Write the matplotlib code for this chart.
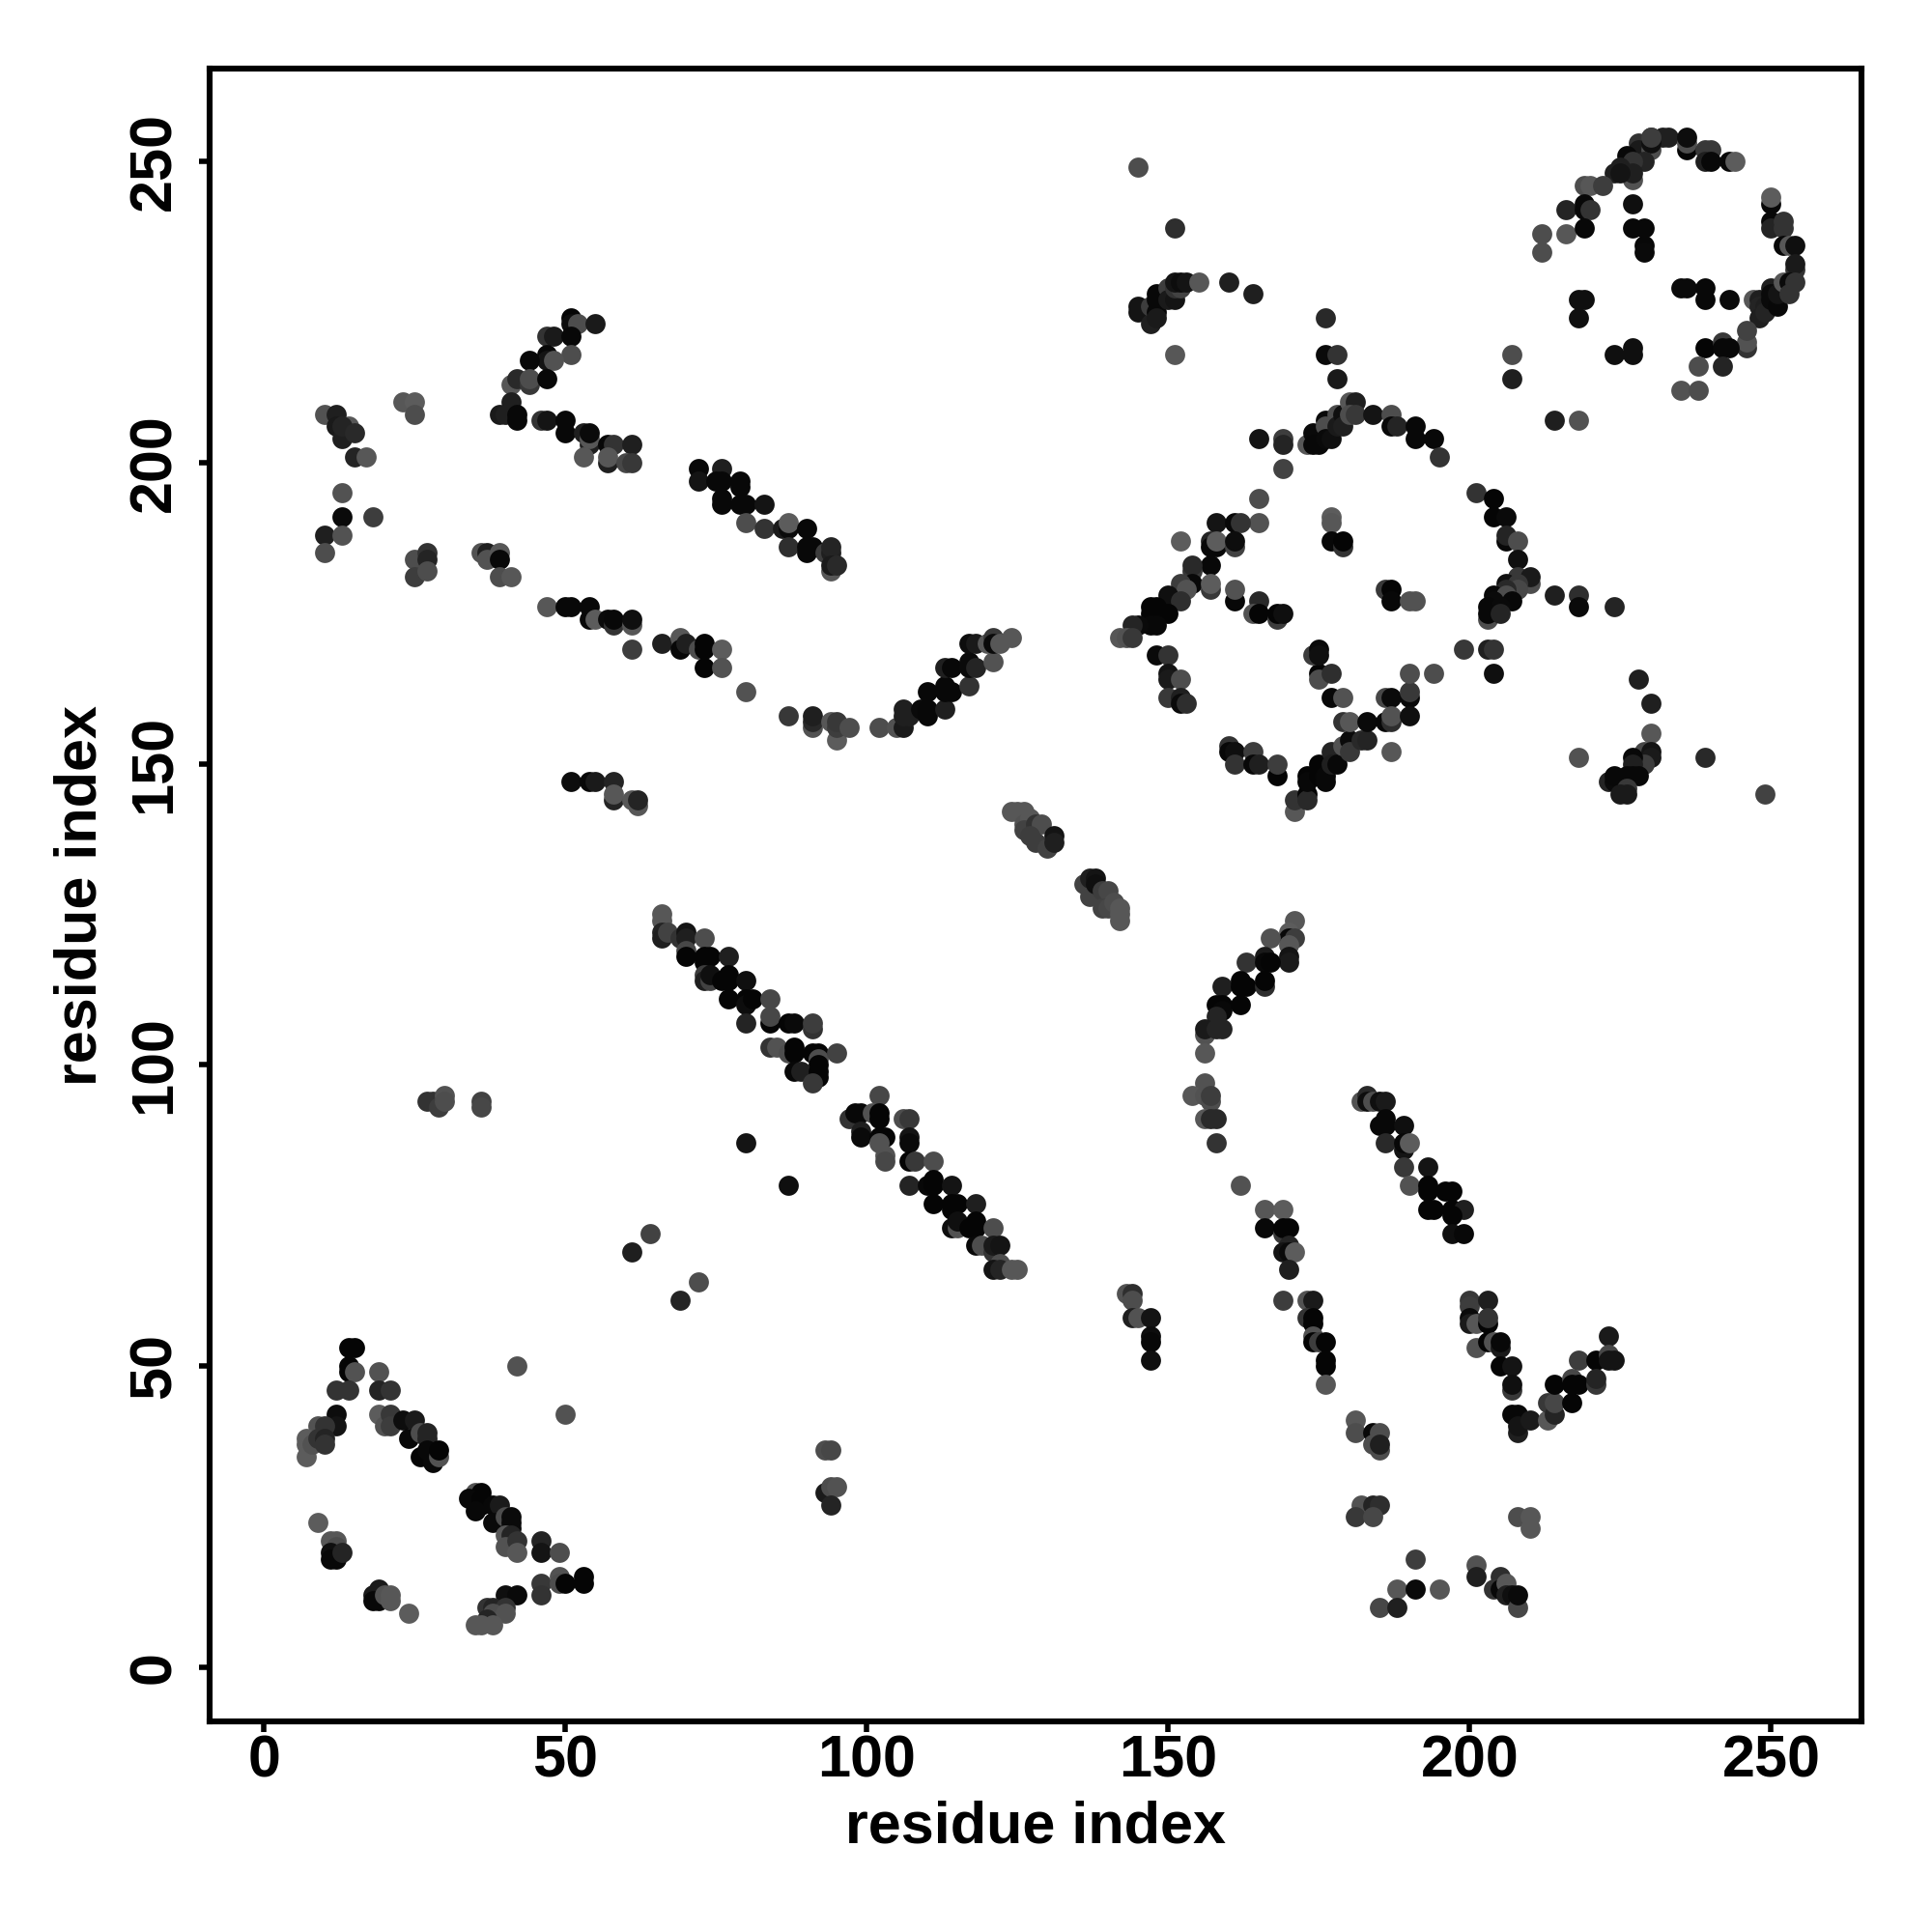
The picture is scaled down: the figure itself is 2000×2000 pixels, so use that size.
import matplotlib
matplotlib.use("Agg")
import matplotlib.pyplot as plt

# contacts as (residue, residue, grey percent), in drawing order
lower_left = [
    (14,53,2),(15,53,2),(14,50,2),(14,49,2),(15,49,32),(12,46,20),(14,46,20),(19,49,32),(19,46,14),(21,46,20),
    (12,42,5),(12,40,8),(9,40,32),(10,40,20),(7,38,36),(7,37,36),(7,35,36),(8,37,32),(9,38,20),(10,38,14),(10,37,20),
    (19,42,36),(20,40,32),(21,42,22),(21,40,24),(23,41,5),(25,41,10),(24,38,3),(26,39,30),(27,39,14),(27,38,14),
    (26,35,2),(27,36,3),(28,34,3),(29,35,32),(29,36,2),
    (9,24,36),(11,21,34),(12,21,34),(12,20,30),(11,19,6),(11,18,3),(12,18,3),(13,19,14),
    (19,13,10),(18,12,10),(18,11,3),(19,11,3),(20,12,32),(21,12,34),(21,11,34),(24,9,36),
    (35,29,32),(36,29,2),(34,28,3),(36,28,2),(36,27,2),(35,26,3),(38,27,3),(39,27,10),(38,24,4),
    (40,25,30),(41,25,4),(41,24,4),(41,23,4),(40,22,34),(41,22,14),(40,20,32),(42,21,20),(42,19,34),
    (46,21,14),(46,19,8),(49,19,30),(46,14,22),(46,12,20),(49,15,32),(49,14,30),(50,14,2),(53,15,2),(53,14,2),
    (40,12,6),(42,12,4),(37,10,20),(38,10,14),(40,10,20),(38,9,30),(40,9,32),(37,8,14),(35,7,34),(36,7,34),(38,7,34),
    (42,50,32),(50,42,32),
]
main_diagonal = [
    (66,125,34),(66,124,34),(66,122,14),(66,121,12),(67,122,26),(69,121,20),(70,122,8),(70,121,12),(73,121,30),
    (70,119,28),(70,118,2),(73,118,2),(74,118,2),(73,117,2),(77,118,12),(73,115,24),(73,114,12),(74,114,26),(74,115,6),
    (76,114,2),(77,115,2),(77,114,2),(80,114,6),(77,111,2),(80,111,2),(80,110,5),(81,111,2),(84,111,28),
    (80,107,14),(84,107,2),(84,108,28),(87,107,2),(88,107,4),(91,106,20),(91,107,24),
    (84,103,20),(85,103,32),(87,102,30),(88,103,2),(88,102,2),(91,102,2),(92,102,2),(92,101,30),(92,100,2),(95,102,26),
    (88,99,3),(89,99,12),(92,99,2),(92,98,2),(91,97,22),
    (102,95,28),(97,91,20),(98,92,3),(99,92,3),(101,92,32),(102,92,2),(102,91,2),(99,89,12),(99,88,4),
    (102,88,2),(103,88,2),(102,87,32),(103,85,32),(103,84,28),(106,91,30),(107,91,22),(107,88,8),(107,87,4),
    (107,84,2),(108,84,22),(111,84,30),(107,80,14),(110,80,3),(111,81,2),(111,80,2),(114,80,8),
    (111,77,2),(114,77,2),(115,77,2),(118,77,12),(114,76,2),(114,73,5),(115,73,32),(115,74,6),(117,73,2),(118,74,2),(118,73,2),
    (121,73,30),(118,70,3),(119,70,30),(121,69,20),(121,70,10),(122,70,8),(122,67,30),(121,66,8),(122,66,14),(124,66,34),(125,66,34),
    (80,87,8),(87,80,6),(64,72,26),(61,69,12),(72,64,30),(69,61,14),
]
middle_strand = [
    (124,142,34),(125,142,34),(126,142,34),(126,140,32),(127,141,34),(126,139,26),(128,140,20),(129,140,30),
    (127,138,24),(128,137,24),(130,136,26),(131,138,8),(131,137,12),
    (136,130,26),(137,131,12),(138,131,8),(137,128,26),(138,130,6),(139,129,24),(140,129,28),(139,126,26),(140,126,28),
    (141,127,30),(142,126,34),(142,125,34),(142,124,34),
]
right_lower = [
    (171,124,34),(170,122,36),(170,121,3),(171,121,24),(170,120,34),(167,121,32),(170,118,8),(170,117,10),
    (163,117,20),(166,118,10),(166,117,3),(167,117,2),(159,113,12),(162,114,2),(162,113,2),(163,113,2),(166,113,18),(166,114,2),
    (158,110,2),(159,110,2),(159,109,3),(162,110,2),(158,108,14),(156,105,32),(156,106,10),(159,106,14),(158,106,14),(156,102,34),
    (156,97,32),(154,95,34),(156,95,32),(157,94,30),(157,95,24),(156,91,34),(157,91,16),(158,91,16),(158,87,20),(162,80,32),
    (166,76,34),(169,76,36),(166,73,3),(169,72,22),(169,73,2),(170,73,2),(170,70,14),(169,69,8),(170,69,4),(171,69,36),(170,66,12),
    (169,61,24),(173,61,32),(174,61,10),(173,58,20),(174,58,2),(174,57,2),(174,55,32),(174,54,2),(175,54,24),(176,54,2),
    (176,51,2),(176,50,2),(176,47,34),
    (182,94,32),(183,95,16),(183,94,5),(184,94,30),(185,94,6),(186,94,10),(185,90,3),(186,91,3),(186,90,3),(189,90,6),
    (186,87,16),(189,86,8),(189,87,3),(190,87,36),(189,83,22),(193,83,8),(190,80,32),(193,80,2),(193,79,2),(196,79,2),(197,79,2),
    (193,76,2),(194,76,2),(197,76,2),(199,76,12),(197,75,2),(197,72,6),(199,72,3),
    (181,41,34),(181,39,30),(184,39,3),(185,39,30),(184,37,30),(185,36,30),(185,37,12),
    (182,27,32),(184,27,14),(185,27,18),(181,25,22),(184,25,28),
    (191,18,24),(188,13,34),(191,13,4),(195,13,34),(185,10,28),(188,10,12),
    (201,17,32),(201,15,12),(205,15,18),(204,13,20),(205,13,3),(206,14,34),(206,12,12),(207,12,6),(208,10,28),(208,12,4),
    (208,25,30),(210,25,34),(210,23,34),
    (200,61,22),(200,60,24),(203,61,12),(200,58,4),(200,57,10),(201,57,34),(203,57,2),(203,58,20),
    (201,53,32),(203,54,2),(204,54,32),(205,53,10),(205,54,3),(205,50,2),(207,50,8),(207,46,22),(207,47,6),
    (207,42,3),(208,42,3),(208,39,12),(208,40,8),(210,41,10),(213,41,34),(213,44,22),(214,42,14),(214,44,28),(217,44,2),
    (214,47,2),(217,48,28),(217,47,2),(218,47,2),(218,51,24),(221,51,2),(221,47,22),(221,48,14),(223,55,10),(223,52,28),(223,51,8),(224,51,8),
    (93,36,30),(94,36,28),(93,29,10),(94,30,30),(95,30,32),(94,27,14),
    (27,94,20),(28,94,20),(29,93,24),(30,95,32),(30,94,30),(36,94,26),(36,93,28),
]
big_ring = [
    (165,204,8),(169,204,24),(169,203,14),(169,199,26),(173,203,34),(174,205,4),(174,203,3),(175,203,3),(176,207,4),(176,206,30),
    (176,204,4),(177,204,6),(178,208,30),(178,206,10),(179,208,6),(179,206,12),(180,210,34),(181,210,12),(180,208,30),(181,208,22),
    (184,208,8),(187,208,30),(187,206,3),(188,206,14),(191,206,3),(191,204,3),(194,204,3),(195,201,20),
    (201,195,20),(204,194,2),(204,191,2),(206,191,4),(206,187,3),(206,188,14),(208,187,30),(208,184,6),(210,180,30),(208,181,22),(210,181,10),
    (206,180,6),(208,180,22),(208,179,28),(206,179,16),(204,178,3),(206,178,30),(204,177,4),(207,177,3),(203,174,30),(203,176,3),(205,176,4),(203,175,3),(205,175,14),
    (214,207,12),(218,207,32),(214,178,12),(218,178,18),(218,176,4),(218,151,32),(224,176,14),
    (199,169,22),(203,169,12),(204,169,20),(204,165,6),
    (165,194,30),(165,190,32),(158,190,8),(161,190,3),(162,190,20),(152,187,36),(157,187,14),(157,186,3),(158,186,3),(158,187,36),(161,186,26),(161,187,5),
    (177,191,36),(177,190,34),(177,187,3),(179,186,20),(179,187,2),
    (157,183,3),(154,182,22),(154,183,16),(154,180,3),(152,180,24),(153,179,32),(157,179,22),(157,180,36),(161,177,3),(161,179,32),
    (165,177,16),(164,175,32),(165,175,2),(168,174,24),(168,175,2),(169,175,6),
    (186,179,22),(187,179,2),(187,177,3),(190,177,32),(191,177,32),
    (150,178,6),(152,177,18),(147,176,2),(148,176,2),(150,175,2),(147,175,2),(148,175,2),(147,173,3),(148,173,3),(145,173,4),(144,173,14),
    (142,171,34),(143,171,32),(144,171,22),
    (148,168,4),(150,168,20),(150,165,8),(150,164,10),(152,164,30),(150,161,22),(152,161,12),(152,160,4),(153,160,18),
    (160,153,20),(160,152,3),(161,152,6),(161,150,20),(164,152,24),(164,150,3),(165,150,12),(168,148,2),(168,150,24),
    (171,142,34),(171,144,20),(173,145,2),(173,144,16),(173,148,2),(173,147,3),(175,150,2),(175,148,2),(176,147,3),(176,148,3),
    (177,152,14),(177,150,12),(178,150,3),(179,153,32),(180,154,4),(180,152,22),(182,154,16),(183,154,14),
    (177,161,3),(179,161,32),(175,165,2),(175,164,30),(177,165,18),(174,168,24),(175,169,4),(175,168,6),
    (179,157,20),(180,157,34),(183,157,4),(186,161,28),(187,161,4),(190,161,3),(190,162,22),(190,165,30),(194,165,30),
    (186,157,3),(187,157,18),(187,158,32),(190,158,6),(187,152,34),
]
upper_right = [
    (230,254,22),(232,254,12),(233,254,12),(236,252,2),(236,253,30),(236,254,5),(239,252,22),(240,252,22),(239,250,12),(240,250,3),(243,250,3),(244,250,36),
    (228,253,20),(228,252,10),(230,252,30),(230,253,6),(230,254,24),(229,250,14),(226,251,3),(227,250,20),(227,247,32),(227,248,12),(225,249,12),(224,248,12),(225,248,8),
    (219,246,30),(220,246,34),(222,246,24),(216,242,14),(219,243,3),(219,242,3),(220,242,20),(216,238,34),(219,239,3),(212,238,30),(212,235,30),
    (227,243,6),(227,239,3),(229,239,3),(229,236,3),(229,235,4),
    (250,243,3),(250,244,36),(250,240,3),(250,239,14),(252,240,20),(252,239,20),(252,236,3),(253,236,34),(254,236,6),(254,232,20),(254,233,10),
    (247,227,34),(248,227,12),(248,226,14),(248,224,12),(249,226,12),(249,225,14),(250,227,4),(250,229,12),(250,228,4),(251,226,3),(251,228,8),
    (252,230,34),(253,230,4),(253,228,20),(254,230,20),
    (246,219,20),(246,220,32),(246,222,26),
    (235,229,4),(236,229,4),(239,229,3),(239,227,3),(243,227,4),
    (218,227,6),(219,227,6),(218,224,6),(224,218,6),(227,219,6),(227,218,6),
    (207,218,30),(207,214,12),
    (239,219,2),(242,220,22),(242,219,3),(243,219,3),(238,216,30),(242,216,14),(235,212,32),(238,212,30),
    (145,249,30),(151,239,18),(151,218,34),(160,230,12),(164,228,12),(176,224,16),(176,218,4),(178,218,20),(178,214,10),
    (145,226,8),(145,225,8),(147,223,12),(147,226,24),(148,228,3),(148,227,3),(148,225,3),(148,224,10),
    (150,229,24),(150,227,10),(151,227,8),(151,229,20),(152,229,26),(151,230,8),(152,230,5),(153,230,8),(155,230,34),
    (228,164,12),(230,160,12),(230,155,34),(239,151,16),(249,145,26),
    (229,152,28),(230,152,8),(230,151,10),(229,150,24),(227,151,3),(227,150,12),(228,148,3),(227,148,3),(226,148,3),(223,147,14),(224,147,4),(224,148,3),
    (226,146,22),(225,145,10),(226,145,10),
    (143,62,32),(144,62,18),(144,61,30),(144,58,12),(145,58,32),(147,58,8),(147,55,5),(147,54,3),(147,51,6),
]
upper_left = [
    (10,208,32),(12,208,12),(12,206,10),(13,204,12),(14,206,34),(13,206,14),(15,205,16),(15,201,14),(17,201,34),
    (23,210,34),(25,210,36),(25,208,30),(13,195,32),(13,191,4),(18,191,24),(10,188,12),(13,188,32),(10,185,30),
    (25,184,30),(27,185,20),(27,184,14),(25,181,24),(27,182,30),
    (36,185,32),(37,185,12),(37,184,32),(39,185,34),(39,184,3),(39,181,30),(41,181,34),
    (51,224,2),(51,223,5),(52,223,30),(55,223,10),(47,221,20),(48,221,10),(51,221,3),(51,218,30),(47,218,3),(47,217,8),(48,217,32),
    (44,217,3),(41,213,34),(42,214,16),(44,213,22),(44,214,30),(47,214,3),
    (41,210,12),(39,208,10),(40,208,12),(42,208,3),(42,207,3),(46,207,20),(47,207,8),(50,207,3),(50,205,3),
    (53,205,12),(54,203,12),(54,204,34),(54,205,4),(53,201,34),(57,203,3),(58,203,20),(61,203,12),(57,200,12),(57,201,34),(60,200,28),(61,200,22),
    (72,199,3),(72,197,8),(76,199,12),(75,197,3),(76,197,3),(79,197,3),(79,196,3),(76,194,3),(76,193,3),(79,193,3),(80,193,3),(83,193,8),
    (80,190,30),(83,189,20),(86,189,10),(87,189,4),(87,190,36),(90,189,3),(87,186,18),(90,186,3),(90,185,3),(91,186,3),(93,185,24),(94,182,34),
    (94,185,12),(94,186,14),(94,183,10),(95,183,16),
    (47,176,34),(50,176,3),(51,176,3),(54,176,3),(54,174,3),(55,174,36),(57,174,4),(58,173,20),(58,174,3),(61,173,34),(61,174,6),(61,169,24),
    (66,170,12),(69,171,34),(69,169,3),(70,170,12),(72,169,30),(73,170,2),(73,169,2),(76,169,36),(73,166,2),(76,166,32),(80,162,32),
    (87,158,22),(91,156,32),(91,157,16),(91,158,12),(94,157,34),(95,154,36),(95,156,24),(95,157,22),(97,156,30),
    (102,156,30),(105,156,32),(106,156,10),(106,158,12),(106,159,12),(107,158,12),(109,159,4),(110,159,3),(110,158,3),(113,159,12),
    (110,162,3),(113,163,3),(113,162,3),(114,162,3),(117,163,20),(113,166,12),(114,166,3),(117,167,4),(117,166,4),(118,166,14),(121,167,32),
    (117,170,5),(118,170,10),(120,170,34),(121,171,22),(121,170,4),(122,170,34),(124,171,34),
    (51,147,5),(54,147,3),(55,147,10),(58,147,14),(58,144,14),(58,145,34),(61,144,34),(62,143,34),(62,144,14),
]

xticks = [0, 50, 100, 150, 200, 250]
yticks = [0, 50, 100, 150, 200, 250]
axis_label = "residue index"

plt.rcParams['font.family'] = ['Liberation Sans', 'DejaVu Sans']
plt.rcParams['font.weight'] = 'bold'

fig = plt.figure(figsize=(10, 10), dpi=200)
ax = fig.add_axes([0.1085, 0.109, 0.855, 0.8555])

for group in [lower_left, main_diagonal, middle_strand, right_lower, big_ring, upper_right, upper_left]:
    for x, y, grey in group:
        ax.scatter(x, y, s=56, color=str(grey / 100), linewidths=0, zorder=3)

ax.set_xlim(-9, 265)
ax.set_ylim(-9, 265.4)
ax.set_xticks(xticks)
ax.set_yticks(yticks)
ax.tick_params(axis='both', length=4, width=2, labelsize=22)
ax.tick_params(axis='x', pad=1)
ax.tick_params(axis='y', pad=6)
for label in ax.get_yticklabels():
    label.set_rotation(90)
    label.set_va('center')
for side in ax.spines.values():
    side.set_linewidth(2.2)

ax.set_xlabel(axis_label, fontsize=22, fontweight='bold', labelpad=4)
ax.set_ylabel(axis_label, fontsize=22, fontweight='bold', labelpad=7)

fig.savefig("out.png", dpi=200)
